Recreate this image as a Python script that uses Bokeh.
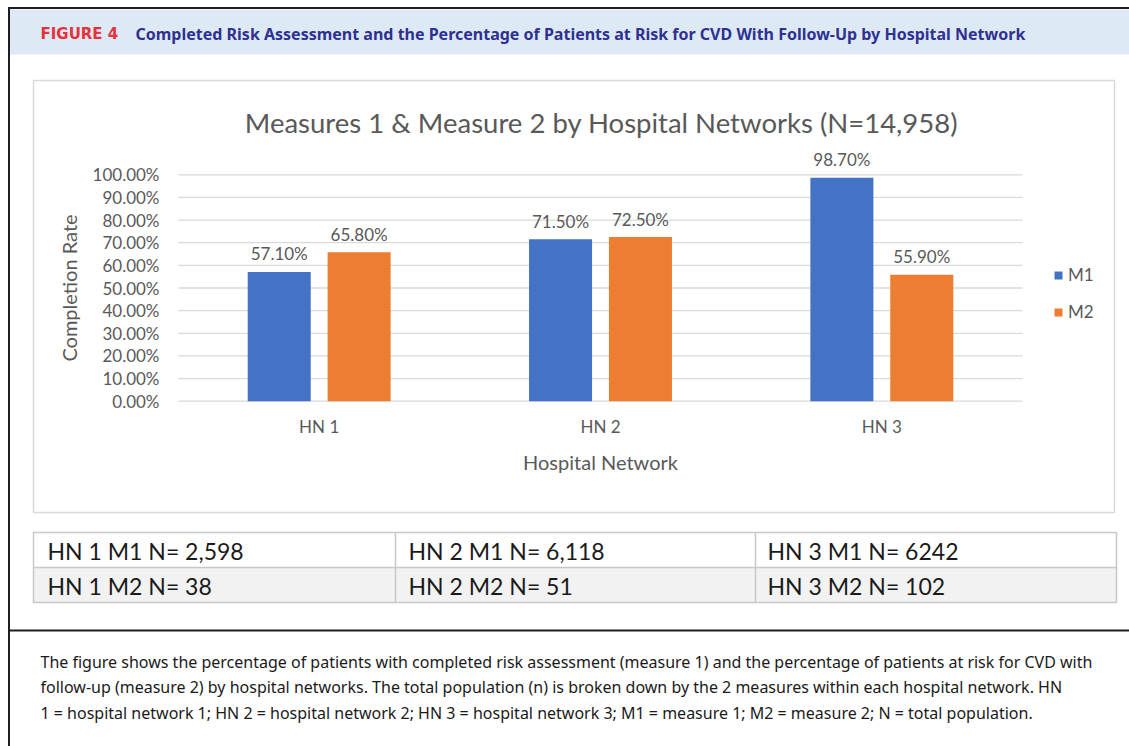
from bokeh.plotting import figure
from bokeh.models import (Range1d, Label, LabelSet, BoxAnnotation, LinearAxis,
                          Legend, LegendItem, ColumnDataSource, NumeralTickFormatter,
                          FixedTicker)
from bokeh.transform import dodge
from bokeh.core.properties import value
from bokeh.embed import file_html
from bokeh.resources import INLINE

# ---------------- data ----------------
networks = ["HN 1", "HN 2", "HN 3"]
m1_pct = [57.1, 71.5, 98.7]
m2_pct = [65.8, 72.5, 55.9]
series_names = ["M1", "M2"]
y_tick_pct = [0, 10, 20, 30, 40, 50, 60, 70, 80, 90, 100]

table_row1 = ["HN 1 M1 N= 2,598", "HN 2 M1 N= 6,118", "HN 3 M1 N= 6242"]
table_row2 = ["HN 1 M2 N= 38", "HN 2 M2 N= 51", "HN 3 M2 N= 102"]

header_tag = "FIGURE 4"
header_title = ("Completed Risk Assessment and the Percentage of Patients at Risk "
                "for CVD With Follow-Up by Hospital Network")
chart_title = "Measures 1 & Measure 2 by Hospital Networks (N=14,958)"
y_label = "Completion Rate"
x_label = "Hospital Network"
caption_lines = [
    "The figure shows the percentage of patients with completed risk assessment (measure 1) and the percentage of patients at risk for CVD with",
    "follow-up (measure 2) by hospital networks. The total population (n) is broken down by the 2 measures within each hospital network. HN",
    "1 = hospital network 1; HN 2 = hospital network 2; HN 3 = hospital network 3; M1 = measure 1; M2 = measure 2; N = total population.",
]

# ---------------- layout / styles ----------------
W, H = 1129, 746
FL, FR, FT, FB = 178.0, 1022.0, 174.3, 400.7   # chart plot area in canvas pixels
C_M1 = "#4472C4"
C_M2 = "#ED7D31"
GREY_TXT = "#595959"
GRID = "#D9D9D9"
CHART_FONT = "Lato"

ncat = len(networks)
slot = [i + 0.5 for i in range(ncat)]

src = ColumnDataSource(dict(
    slot=slot,
    m1=[v / 100 for v in m1_pct],
    m2=[v / 100 for v in m2_pct],
    m1_lbl=[f"{v:.2f}%" for v in m1_pct],
    m2_lbl=[f"{v:.2f}%" for v in m2_pct],
))

# main ranges = page pixels (y downwards); chart ranges map onto the plot area
p = figure(width=W, height=H, x_range=Range1d(0, W), y_range=Range1d(H, 0),
           x_axis_type=None, y_axis_type=None, min_border=0,
           output_backend="svg", toolbar_location=None)
p.outline_line_color = None
p.background_fill_color = "white"
p.border_fill_color = "white"
p.xgrid.visible = False
p.ygrid.visible = False

ux = ncat / (FR - FL)
p.extra_x_ranges = {"cat": Range1d(-FL * ux, ncat + (W - FR) * ux)}
p.extra_y_ranges = {"val": Range1d(-(H - FB) / (FB - FT), 1 + FT / (FB - FT))}
RN = dict(x_range_name="cat", y_range_name="val")

# gridlines at tick values
ticks = [t / 100 for t in y_tick_pct]
p.segment(x0=[0] * len(ticks), x1=[ncat] * len(ticks), y0=ticks, y1=ticks,
          line_color=GRID, line_width=1.3, **RN)

bw = 0.224
off = 0.142
r1 = p.vbar(x=dodge("slot", -off), top="m1", width=bw, source=src,
            fill_color=C_M1, line_color=None, **RN)
r2 = p.vbar(x=dodge("slot", off), top="m2", width=bw, source=src,
            fill_color=C_M2, line_color=None, **RN)

for ycol, fld, d in (("m1", "m1_lbl", -off), ("m2", "m2_lbl", off)):
    p.add_layout(LabelSet(x=dodge("slot", d), y=ycol, text=fld, source=src,
                          y_offset=18, text_align="center", text_baseline="middle",
                          text_font=value(CHART_FONT), text_font_size="17px",
                          text_color=GREY_TXT, **RN))


def style_axis(ax):
    ax.axis_line_color = None
    ax.major_tick_line_color = None
    ax.minor_tick_line_color = None
    ax.major_tick_out = 0
    ax.major_tick_in = 0
    ax.major_label_text_font = CHART_FONT
    ax.major_label_text_font_size = "17px"
    ax.major_label_text_color = GREY_TXT
    ax.axis_label_text_font = CHART_FONT
    ax.axis_label_text_font_size = "20px"
    ax.axis_label_text_font_style = "normal"
    ax.axis_label_text_color = GREY_TXT


yax = LinearAxis(fixed_location=0, ticker=FixedTicker(ticks=ticks), bounds=(0, 1),
                 formatter=NumeralTickFormatter(format="0.00%"),
                 axis_label=y_label, major_label_standoff=19,
                 axis_label_standoff=9, **RN)
style_axis(yax)
p.add_layout(yax, "left")

xax = LinearAxis(fixed_location=0, ticker=FixedTicker(ticks=slot), bounds=(0, ncat),
                 major_label_overrides={s: n for s, n in zip(slot, networks)},
                 axis_label=x_label, major_label_standoff=15,
                 axis_label_standoff=9, **RN)
style_axis(xax)
p.add_layout(xax, "below")

legend = Legend(items=[LegendItem(label=series_names[0], renderers=[r1]),
                       LegendItem(label=series_names[1], renderers=[r2])],
                location=(1053, 424), orientation="vertical",
                glyph_width=10, glyph_height=10, label_height=20, spacing=16,
                label_standoff=5, padding=0, margin=0,
                border_line_color=None, background_fill_alpha=0,
                label_text_font=CHART_FONT, label_text_font_size="17px",
                label_text_color=GREY_TXT)
p.add_layout(legend)


# ---------------- page decorations (pixel coords) ----------------
def box(l, r, t, b, fill=None, line=None, lw=1.0):
    p.add_layout(BoxAnnotation(left=l, right=r, top=t, bottom=b,
                               fill_color=fill if fill else "white",
                               fill_alpha=1 if fill else 0,
                               line_color=line if line else "white",
                               line_alpha=1 if line else 0, line_width=lw,
                               level="underlay"))


def label(x, y, text, font, size, color, style="normal", align="left"):
    p.add_layout(Label(x=x, y=y, text=text, text_font=font, text_font_size=size,
                       text_color=color, text_font_style=style, text_align=align,
                       text_baseline="middle"))


# header band + frame lines
box(9, W, 9, 54, fill="#DDE9F5")
box(8, W, 6.5, 8.5, fill="#1E1E1E")
box(7.5, 9.5, 6.5, H, fill="#1E1E1E")
box(8, W, 629, 631, fill="#1E1E1E")
label(40, 33, header_tag, "DejaVu Sans", "15px", "#E5323B", style="bold")
label(135, 33, header_title, "Noto Sans", "16px", "#2E3192", style="bold")

# chart box
box(33, 1114, 80, 512, line="#D9D9D9", lw=1.5)
label(601, 122, chart_title, CHART_FONT, "27.5px", GREY_TXT, align="center")

# table
box(33, 1116, 567, 602, fill="#F2F2F2")
box(33, 1116, 532, 602, line="#C8C8C8", lw=1.5)
box(33, 1116, 567, 567, line="#C8C8C8", lw=1.5)
box(395, 395, 532, 602, line="#C8C8C8", lw=1.5)
box(755, 755, 532, 602, line="#C8C8C8", lw=1.5)
col_x = [47, 408, 767]
for i in range(3):
    label(col_x[i], 550, table_row1[i], CHART_FONT, "23px", "#1A1A1A")
    label(col_x[i], 585, table_row2[i], CHART_FONT, "23px", "#1A1A1A")

# caption
for i, line in enumerate(caption_lines):
    label(40, 661 + 25.5 * i, line, "Noto Sans", "16px", "#1A1A1A")

open("out.html", "w").write(file_html(p, INLINE))
